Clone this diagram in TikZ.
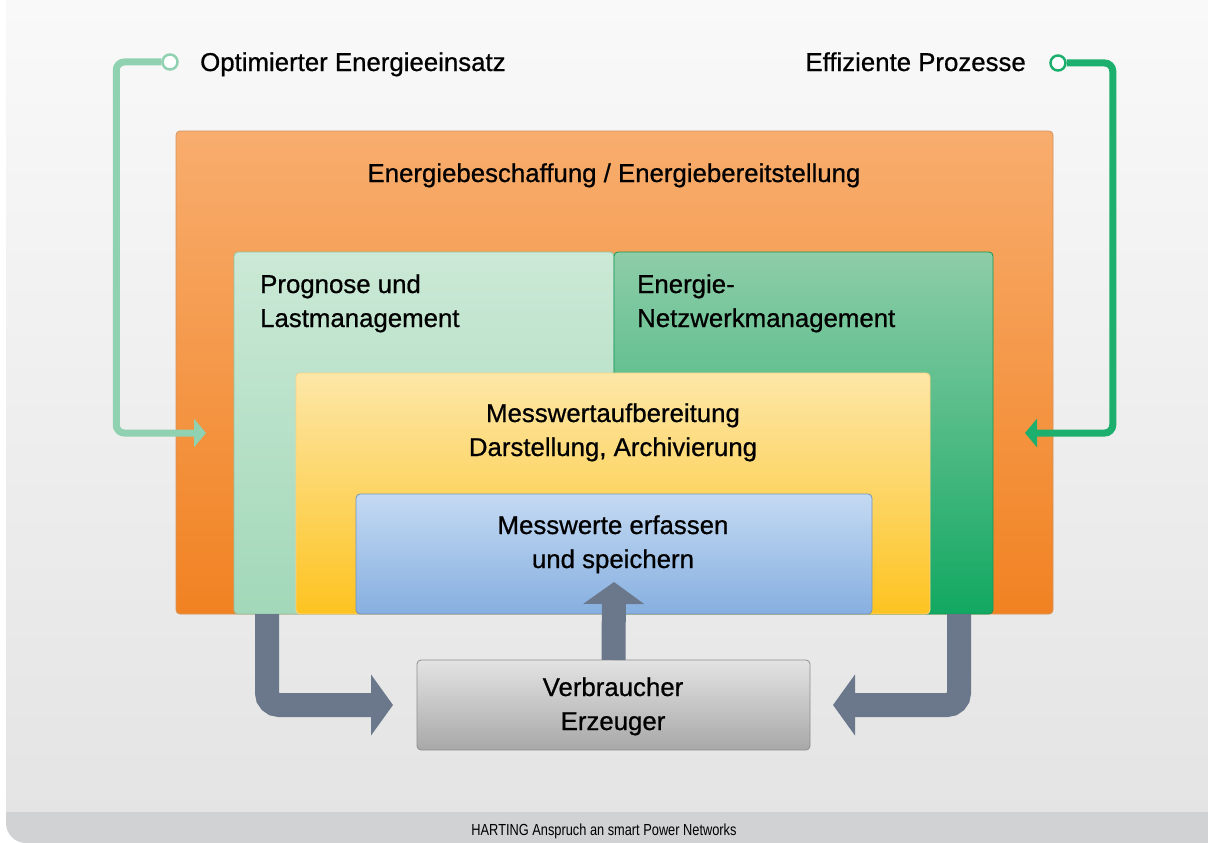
\documentclass[tikz,border=0pt]{standalone}
\usepackage{fontspec}
\setmainfont[FakeBold = 0.7]{Liberation Sans}
\newfontfamily\captionfont[FakeStretch = 0.8]{Liberation Sans}
\usepackage{tikz}
\usetikzlibrary{positioning}
\usetikzlibrary{calc}
\usetikzlibrary{arrows.meta}

\definecolor{BackTop}{HTML}{F9F9F9}
\definecolor{BackBottom}{HTML}{E4E4E4}
\definecolor{BarGrey}{HTML}{D1D2D4}
\definecolor{OrangeTop}{HTML}{F8AD6E}
\definecolor{OrangeBottom}{HTML}{F18222}
\definecolor{MintTop}{HTML}{CBE9D6}
\definecolor{MintBottom}{HTML}{A2D8B9}
\definecolor{GreenTop}{HTML}{8ECDA8}
\definecolor{GreenBottom}{HTML}{12A862}
\definecolor{YellowTop}{HTML}{FDE7A8}
\definecolor{YellowBottom}{HTML}{FDC320}
\definecolor{BlueTop}{HTML}{C4DAF2}
\definecolor{BlueBottom}{HTML}{86AFE0}
\definecolor{GreyTop}{HTML}{E3E3E3}
\definecolor{GreyBottom}{HTML}{A8A8A8}
\definecolor{FlowGrey}{HTML}{6B788B}
\definecolor{LineMint}{HTML}{8FD1B0}
\definecolor{LineGreen}{HTML}{1DAF6D}

\begin{document}
\begin{tikzpicture}[x = 1pt, y = -1pt,
                    panel/.style = {rectangle, rounded corners = 4pt, inner sep = 0pt, outer sep = 0pt, line width = .8pt},
                    orangebox/.style = {top color = OrangeTop, bottom color = OrangeBottom, draw = OrangeTop!85!black},
                    mintbox/.style = {top color = MintTop, bottom color = MintBottom, draw = MintBottom!90!black},
                    greenbox/.style = {top color = GreenTop, bottom color = GreenBottom, draw = GreenBottom!90!black},
                    yellowbox/.style = {top color = YellowTop, bottom color = YellowBottom, draw = YellowTop!80!orange},
                    bluebox/.style = {top color = BlueTop, bottom color = BlueBottom, draw = BlueBottom!85!black},
                    greybox/.style = {top color = GreyTop, bottom color = GreyBottom, draw = GreyBottom!85!black},
                    boxtext/.style = {inner sep = 0pt, font = \fontsize{25.8}{34}\selectfont, align = left},
                    flow/.style = {draw = FlowGrey, line width = 24pt, rounded corners = 12pt,
                                   -{Triangle[length = 22pt, width = 60pt]}},
                    feedback/.style = {line width = 7pt, rounded corners = 8pt,
                                       -{Triangle[length = 12pt, width = 28pt]}},
                    port/.style = {circle, fill = white, line width = 2.5pt, minimum size = 15pt, inner sep = 0pt}]
    \useasboundingbox (0,0) rectangle (1208,843);

    % Draw the background and the caption bar:
    \fill [white] (0,0) rectangle (1208,843);
    \begin{scope}
        \clip [rounded corners = 20pt] (6,-30) rectangle (1240,843);
        \fill [top color = BackTop, bottom color = BackBottom] (6,0) rectangle (1208,812);
        \fill [BarGrey] (6,812) rectangle (1208,843);
    \end{scope}
    \node [font = \captionfont\fontsize{16}{18}\selectfont, anchor = base, inner sep = 0pt] (caption) at (604,835)
        {HARTING Anspruch an smart Power Networks};

    % Draw the nested boxes:
    \foreach \boxname/\center/\boxwidth/\boxheight/\boxstyle in {beschaffung/{614.5,372.5}/877/483/orangebox,
                                                               prognose/{424,433}/380/362/mintbox,
                                                               netzwerk/{803.5,433}/379/362/greenbox,
                                                               aufbereitung/{613,493.5}/634/241/yellowbox,
                                                               messwerte/{614,554}/516/120/bluebox,
                                                               verbraucher/{613.5,705}/393/90/greybox}
        \node [panel, \boxstyle, minimum width = \boxwidth, minimum height = \boxheight] (\boxname) at (\center) {};

    % Draw the box texts (base = baseline of the last line):
    \node [boxtext, anchor = base] (beschaffungtext) at (614,182) {Energiebeschaffung / Energiebereitstellung};
    \node [boxtext, anchor = base west] (prognosetext) at (260,327) {Prognose und\\Lastmanagement};
    \node [boxtext, anchor = base west] (netzwerktext) at (637,327) {Energie-\\Netzwerkmanagement};
    \node [boxtext, align = center, anchor = base] (aufbereitungtext) at (613,456) {Messwertaufbereitung\\Darstellung, Archivierung};
    \node [boxtext, align = center, anchor = base] (messwertetext) at (613,568) {Messwerte erfassen\\und speichern};
    \node [boxtext, align = center, anchor = base] (verbrauchertext) at (613,730) {Verbraucher\\Erzeuger};

    % Draw the flows between the consumers and the boxes:
    \draw [flow] ([xshift = 33pt]prognose.south west) |- ([xshift = -24pt]verbraucher.west);
    \draw [flow] ([xshift = -34pt]netzwerk.south east) |- ([xshift = 23pt]verbraucher.east);
    \draw [flow] (verbraucher.north) -- ([yshift = 32pt]messwerte.south);

    % Draw the feedback loops at the top:
    \node [port, draw = LineMint] (einsatzport) at (170,62) {};
    \node [port, draw = LineGreen] (prozessport) at (1058,63) {};
    \coordinate (einsatzin) at (206,433);
    \coordinate (prozessin) at (1025,433);
    \draw [feedback, LineMint] (einsatzport.west) -- ++(-45,0) |- (einsatzin);
    \draw [feedback, LineGreen] (prozessport.east) -- ++(46,0) |- (prozessin);
    \node [boxtext, anchor = base west] (einsatztext) at (200,71) {Optimierter Energieeinsatz};
    \node [boxtext, anchor = base east] (prozesstext) at (1026,71) {Effiziente Prozesse};
\end{tikzpicture}
\end{document}
